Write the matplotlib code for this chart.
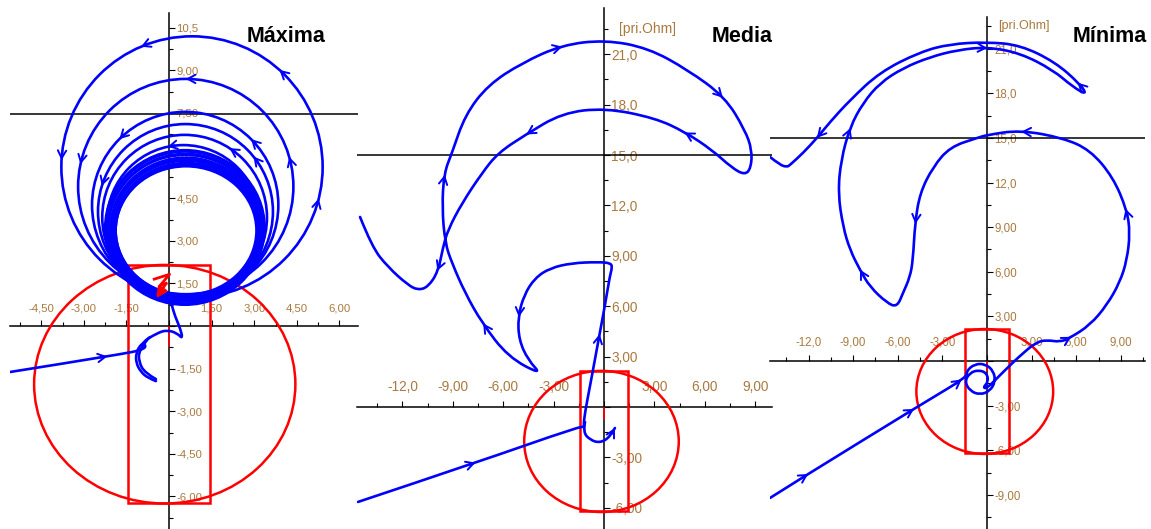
import numpy as np
import matplotlib.pyplot as plt
from matplotlib.patches import Ellipse, Rectangle, PathPatch
from matplotlib.path import Path
from matplotlib.ticker import FuncFormatter, MultipleLocator

plt.rcParams['font.family'] = ['Liberation Sans', 'DejaVu Sans']

BLUE = '#0000ff'
RED = '#ff0000'
LABEL = '#a97a3f'

# relay zone in pri. Ohm (same setting for the three cases)
zone_center = (-0.15, -2.05)
zone_width = 9.2
zone_height = 8.4
window_x = (-1.45, 1.45)
window_y = (-6.22, 2.15)

# --- Máxima: trajectory into the zone, then swing rings ---
max_limit = 7.45
max_path_x = [-5.6, -1.83, -0.77, -0.92, -0.42, -0.07, 0.28, 0.49, 0.39, 0.21, 0.11, 0.04]
max_path_y = [-1.62, -1.02, -0.81, -0.56, -0.25, -0.14, -0.25, -0.46, -0.07, 0.35, 0.70, 0.92]
max_path_arrows = [1]
max_c1_x = [-0.67, -0.99, -1.16, -1.16, -0.99, -0.74, -0.46]
max_c1_y = [-0.39, -0.63, -0.95, -1.30, -1.62, -1.83, -1.94]
max_c2_x = [-0.77, -1.06, -1.06, -0.85, -0.46]
max_c2_y = [-0.49, -0.85, -1.27, -1.65, -1.87]
ring_cx = [0.81, 0.59, 0.57, 0.58, 0.55, 0.51]
ring_cy = [5.6, 4.91, 4.26, 4.03, 3.83, 3.68]
ring_r = [4.6, 3.79, 3.28, 3.08, 2.9, 2.69]
ring_arrows = [(0, 113), (0, 48), (0, 177), (0, -14), (1, 90), (1, 168), (1, 16),
               (2, 135), (2, 45), (3, 163), (3, 39), (4, 57), (5, 102)]
band_cx = [0.56, 0.57, 0.58, 0.57, 0.59, 0.6, 0.59, 0.61, 0.6, 0.62, 0.6]
band_cy = [3.47, 3.46, 3.43, 3.44, 3.41, 3.40, 3.40, 3.38, 3.38, 3.37, 3.36]
band_w = [5.62, 5.55, 5.47, 5.4, 5.32, 5.26, 5.17, 5.1, 5.03, 4.99, 4.95]
band_h = [5.45, 5.36, 5.27, 5.16, 5.04, 4.95, 4.83, 4.73, 4.64, 4.58, 4.52]
fault_x = [-0.52, 0.02, -0.32, -0.1, -0.45]
fault_y = [1.65, 1.82, 1.42, 1.5, 0.98]

# --- Media ---
med_limit = 15.0
med_path_x = [-14.64, -7.5, -1.55, -1.13, -1.25, -0.71, -0.24, 0.06, 0.36, 0.48, 0.42, -0.36,
              -1.9, -3.21, -4.11, -4.76, -5.12, -5.06, -4.52, -3.69, -5.71, -7.26, -8.27,
              -9.05, -9.46, -9.64, -9.52, -9.05, -8.27, -6.9, -4.88, -2.5, 0.06, 2.62, 5.0,
              7.2, 8.39, 8.81, 8.75, 8.39, 7.62, 6.43, 4.82, 3.04, 0.06, -2.5, -4.7, -6.31,
              -7.26, -8.45, -9.29, -9.58, -9.88, -10.48, -11.07, -11.67, -12.86, -13.81, -14.52]
med_path_y = [-5.65, -3.27, -1.19, -1.19, -0.95, 1.9, 4.46, 6.07, 7.86, 8.27, 8.57, 8.63,
              8.57, 8.27, 7.68, 6.67, 5.36, 3.99, 2.8, 1.9, 2.98, 5.0, 6.79,
              8.57, 9.76, 11.9, 13.93, 15.12, 17.38, 19.17, 20.48, 21.55, 21.85, 21.37, 20.06,
              18.45, 16.49, 15.3, 14.23, 13.81, 14.23, 15.3, 16.37, 17.2, 17.8, 17.5, 16.19, 15.12,
              13.93, 12.14, 10.54, 9.52, 8.04, 7.14, 6.96, 7.26, 8.33, 9.52, 11.31]
med_path_arrows = [1, 6, 16, 21, 26, 31, 35, 42, 46, 52]
med_hook_x = [-1.13, -1.25, -0.83, -0.24, 0.36, 0.65]
med_hook_y = [-0.89, -1.49, -1.96, -2.14, -1.79, -1.25]

# --- Mínima ---
min_limit = 15.0
min_path_x = [-14.59, -12.91, -4.17, -1.34, -1.38, -0.83, -0.11, 0.44, 0.56, 0.2, -0.47,
              -1.14, -1.5, -1.16, -0.57, -0.01, 0.09, -0.27, 0.0, 1.08, 2.42, 3.36, 4.03, 4.91,
              5.58, 6.93, 8.07, 8.94, 9.41, 9.62, 9.41, 8.47, 6.93, 5.11, 2.22, 0.0, -0.67,
              -2.49, -3.63, -4.51, -4.84, -4.98, -5.18, -5.65, -6.05, -6.72, -7.87, -8.54,
              -9.21, -9.68, -10.02, -9.82, -9.21, -8.34, -7.2, -5.65, -3.83, -2.02, 0.0, 2.22,
              4.44, 5.78, 6.73, 6.25, 4.57, 2.22, 0.0, -2.49, -4.51, -7.2, -9.21, -10.56,
              -11.43, -12.37, -13.25, -13.45, -13.92, -14.59]
min_path_y = [-9.21, -8.14, -2.76, -1.08, -0.67, -0.2, -0.2, -0.67, -1.38, -2.02, -2.27,
              -2.02, -1.38, -0.8, -0.6, -0.81, -1.41, -1.78, -1.85, -0.74, 0.54, 1.28, 1.41, 1.28,
              1.55, 2.42, 3.77, 5.31, 6.79, 8.61, 10.15, 12.37, 14.19, 15.0, 15.53, 15.2, 15.0,
              14.39, 13.05, 11.3, 9.28, 6.79, 5.65, 4.57, 3.63, 3.9, 4.98, 6.12,
              7.46, 9.01, 11.3, 13.52, 15.74, 17.35, 18.7, 19.7, 20.44, 20.91, 21.12, 20.71,
              19.57, 18.43, 17.89, 18.63, 20.11, 21.25, 21.45, 21.32, 20.78, 19.43, 17.55, 16.07,
              15.0, 13.99, 13.18, 13.05, 13.18, 13.72]
min_path_arrows = [1, 2, 3, 24, 30, 34, 40, 47, 52, 58, 63, 72]


W, H = 1151, 529
fig = plt.figure(figsize=(W / 100, H / 100), dpi=100)


def fmt(v, pos):
    if abs(v) < 1e-9:
        return ''
    s = f'{v:.1f}' if abs(v) >= 10 else f'{v:.2f}'
    return s.replace('.', ',')


def panel(left, right, top, x0, y0, scale, step, fs):
    # axes placed in pixels; x0/y0 is the origin and scale is px per Ohm
    ax = fig.add_axes([left / W, 0, (right - left) / W, (H - top) / H])
    ax.set_xlim((left - x0) / scale, (right - x0) / scale)
    ax.set_ylim((y0 - H) / scale, (y0 - top) / scale)
    ax.patch.set_alpha(0)
    for s in ('left', 'bottom'):
        ax.spines[s].set_visible(False)
    ax.spines['top'].set_position(('data', 0))
    ax.spines['right'].set_position(('data', 0))
    for s in ('top', 'right'):
        ax.spines[s].set_linewidth(1.1)
    ax.xaxis.set_ticks_position('top')
    ax.yaxis.set_ticks_position('right')
    for axis in (ax.xaxis, ax.yaxis):
        axis.set_major_locator(MultipleLocator(step))
        axis.set_minor_locator(MultipleLocator(step / 2))
        axis.set_major_formatter(FuncFormatter(fmt))
    ax.tick_params(which='both', direction='out', width=0.8, color='k',
                   labelsize=fs, labelcolor=LABEL)
    ax.tick_params(which='major', length=4.3)
    ax.tick_params(which='minor', length=3)
    ax.tick_params(axis='x', pad=5)
    ax.tick_params(axis='y', pad=1)
    return ax


def on_curve(xs, ys, i):
    # point of the smoothed trace closest to sample i
    if i == 0 or i == len(xs) - 1:
        return xs[i], ys[i]
    return (0.125 * xs[i - 1] + 0.75 * xs[i] + 0.125 * xs[i + 1],
            0.125 * ys[i - 1] + 0.75 * ys[i] + 0.125 * ys[i + 1])


def arrows(ax, xs, ys, idx):
    for i in idx:
        i0, i1 = max(i - 1, 0), min(i + 1, len(xs) - 1)
        dx, dy = xs[i1] - xs[i0], ys[i1] - ys[i0]
        n = np.hypot(dx, dy)
        ax.annotate('', xy=on_curve(xs, ys, i), xytext=(-dx / n * 5, -dy / n * 5),
                    textcoords='offset points',
                    arrowprops=dict(arrowstyle='->,head_length=0.55,head_width=0.3',
                                    color=BLUE, lw=1.4, mutation_scale=10,
                                    shrinkA=0, shrinkB=0), zorder=4)


def zone(ax):
    ax.add_patch(Ellipse(zone_center, zone_width, zone_height, fill=False,
                         ec=RED, lw=1.8, zorder=2.8))
    ax.add_patch(Rectangle((window_x[0], window_y[0]), window_x[1] - window_x[0],
                           window_y[1] - window_y[0], fill=False, ec=RED, lw=1.8, zorder=2.8))
    ax.plot([0, 0], [-0.05, -0.7], color=RED, lw=1.2, zorder=2.9)


def trace(ax, xs, ys):
    # smooth trace: samples act as quadratic Bezier control points
    pts = list(zip(xs, ys))
    verts, codes = [pts[0]], [Path.MOVETO]
    for k in range(1, len(pts) - 1):
        nxt = pts[k + 1] if k == len(pts) - 2 else (
            (pts[k][0] + pts[k + 1][0]) / 2, (pts[k][1] + pts[k + 1][1]) / 2)
        verts += [pts[k], nxt]
        codes += [Path.CURVE3, Path.CURVE3]
    if len(pts) == 2:
        verts.append(pts[1])
        codes.append(Path.LINETO)
    ax.add_patch(PathPatch(Path(verts, codes), fill=False, ec=BLUE, lw=1.9,
                           zorder=3, joinstyle='round', capstyle='round'))


# Máxima
ax1 = panel(10, 358, 13, 169, 326, 28.4, 1.5, 8.2)
zone(ax1)
ax1.axhline(max_limit, color='k', lw=1.1, zorder=2.6)
for cx, cy, w, h in zip(band_cx, band_cy, band_w, band_h):
    ax1.add_patch(Ellipse((cx, cy), w, h, fill=False, ec=BLUE, lw=1.7, zorder=3))
for cx, cy, r in zip(ring_cx, ring_cy, ring_r):
    ax1.add_patch(Ellipse((cx, cy), 2 * r, 2 * r, fill=False, ec=BLUE, lw=1.9, zorder=3))
for k, ang in ring_arrows:
    t = np.radians(ang)
    px = ring_cx[k] + ring_r[k] * np.cos(t)
    py = ring_cy[k] + ring_r[k] * np.sin(t)
    ax1.annotate('', xy=(px, py), xytext=(np.sin(t) * 5, -np.cos(t) * 5),
                 textcoords='offset points',
                 arrowprops=dict(arrowstyle='->,head_length=0.55,head_width=0.3',
                                 color=BLUE, lw=1.4, mutation_scale=10,
                                 shrinkA=0, shrinkB=0), zorder=4)
trace(ax1, max_path_x, max_path_y)
arrows(ax1, max_path_x, max_path_y, max_path_arrows)
trace(ax1, max_c1_x, max_c1_y)
trace(ax1, max_c2_x, max_c2_y)
ax1.plot(fault_x[:-1], fault_y[:-1], color=RED, lw=2, zorder=3.5)
ax1.annotate('', xy=(fault_x[-1], fault_y[-1]), xytext=(fault_x[-2], fault_y[-2]),
             arrowprops=dict(arrowstyle='-|>,head_length=0.6,head_width=0.3', color=RED,
                             lw=2, mutation_scale=10, shrinkA=0, shrinkB=0), zorder=3.5)

# Media
ax2 = panel(357, 772, 8, 604, 407, 16.8, 3, 9.8)
zone(ax2)
ax2.axhline(med_limit, color='k', lw=1.1, zorder=2.6)
trace(ax2, med_path_x, med_path_y)
arrows(ax2, med_path_x, med_path_y, med_path_arrows)
trace(ax2, med_hook_x, med_hook_y)
arrows(ax2, med_hook_x, med_hook_y, [len(med_hook_x) - 1])
ax2.annotate('[pri.Ohm]', xy=(0, 22.5), xytext=(11, 0), textcoords='offset points',
             va='center', ha='left', fontsize=10, color=LABEL)

# Mínima
ax3 = panel(770, 1145, 17, 987, 361, 14.87, 3, 8.3)
zone(ax3)
ax3.axhline(min_limit, color='k', lw=1.1, zorder=2.6)
trace(ax3, min_path_x, min_path_y)
arrows(ax3, min_path_x, min_path_y, min_path_arrows)
ax3.annotate('[pri.Ohm]', xy=(0, 22.5), xytext=(8, 0), textcoords='offset points',
             va='center', ha='left', fontsize=9, color=LABEL)

for x, name in [(247, 'Máxima'), (712, 'Media'), (1073, 'Mínima')]:
    fig.text(x / W, 1 - 36 / H, name, fontsize=15.5, fontweight='bold', ha='left', va='center')

fig.savefig('out.png', dpi=100)
